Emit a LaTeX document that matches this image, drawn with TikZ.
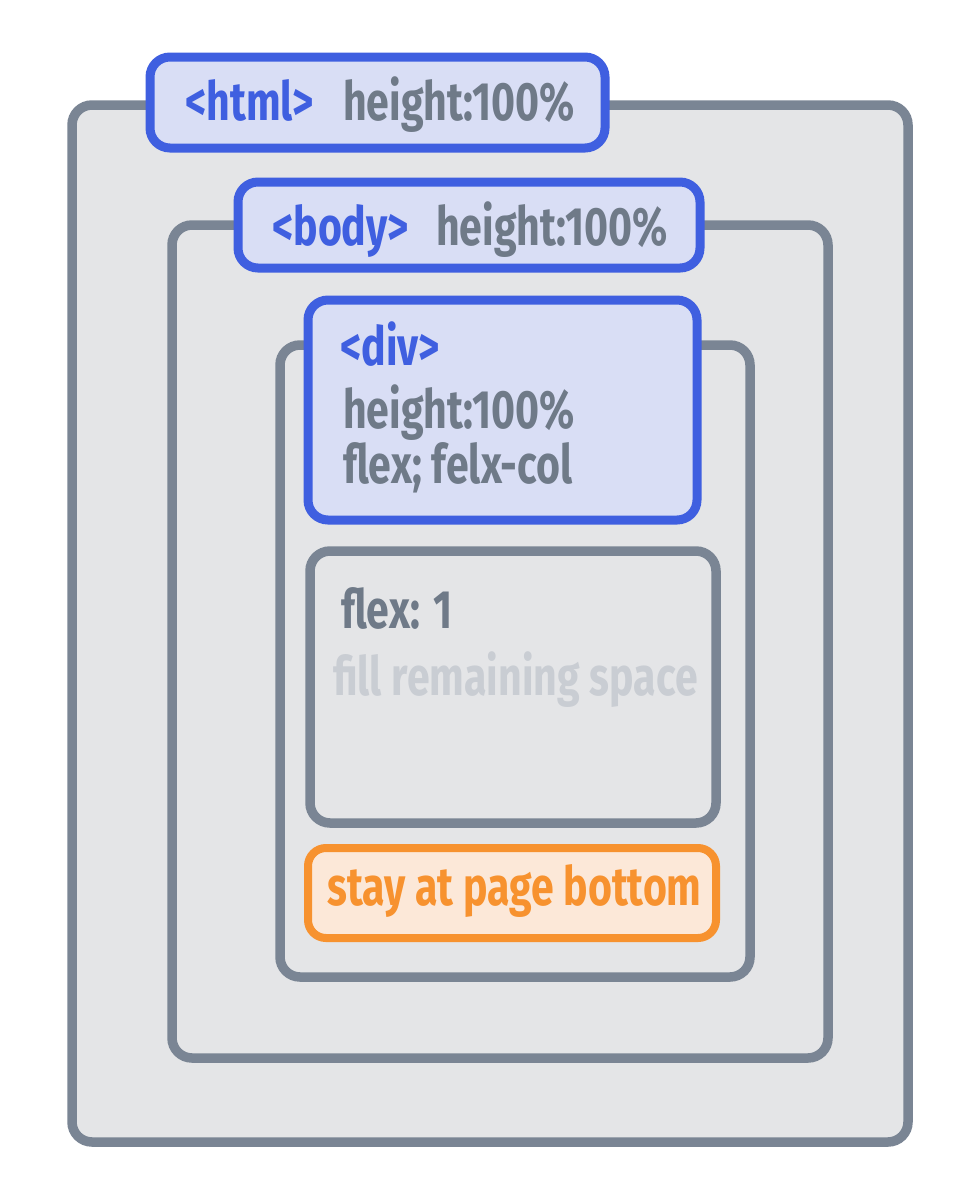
\documentclass[tikz,border=0pt]{standalone}
\usepackage{fontspec}
\newfontfamily\hand[FakeStretch=0.76]{Fira Sans}
\definecolor{boxgray}{HTML}{7A8594}
\definecolor{fillgray}{HTML}{E4E5E7}
\definecolor{bluestroke}{HTML}{3F5FE0}
\definecolor{bluefill}{HTML}{D9DEF5}
\definecolor{txtgray}{HTML}{6F7A88}
\definecolor{txtlight}{HTML}{C9CDD3}
\definecolor{orstroke}{HTML}{F7922F}
\definecolor{orfill}{HTML}{FCE8D8}
\begin{document}
\begin{tikzpicture}[x=1pt,y=1pt,
  graybox/.style={draw=boxgray,fill=fillgray,line width=9.5pt,rounded corners=20pt,inner sep=0pt},
  bluebox/.style={draw=bluestroke,fill=bluefill,line width=9pt,rounded corners=20pt,inner sep=0pt},
  orbox/.style={draw=orstroke,fill=orfill,line width=8pt,rounded corners=18pt,inner sep=0pt},
  lbl/.style={anchor=base west,inner sep=0pt,font=\hand\bfseries\fontsize{54}{60}\selectfont},
  tagtxt/.style={lbl,text=bluestroke},
  graytxt/.style={lbl,text=txtgray},
  lighttxt/.style={lbl,text=txtlight},
  ortxt/.style={lbl,text=orstroke}]
\useasboundingbox (0,0) rectangle (980,-1200);
\fill[white] (0,0) rectangle (980,-1200);
% html
\node[graybox,minimum width=836pt,minimum height=1037pt] (htmlbox) at (490,-623.5) {};
\node[bluebox,minimum width=455pt,minimum height=91pt] (htmllbl) at (377.5,-102.5) {};
\node[tagtxt] (htmltag) at (185,-120) {<html>};
\node[graytxt] (htmlh) at (343,-120) {height:100\%};
% body
\node[graybox,minimum width=656pt,minimum height=833pt] (bodybox) at (500,-641.5) {};
\node[bluebox,minimum width=462pt,minimum height=86pt] (bodylbl) at (469,-225) {};
\node[tagtxt] (bodytag) at (272,-245) {<body>};
\node[graytxt] (bodyh) at (436,-245) {height:100\%};
% div
\node[graybox,minimum width=470pt,minimum height=632pt] (divbox) at (515,-661) {};
\node[bluebox,minimum width=389pt,minimum height=220pt] (divlbl) at (502.5,-410) {};
\node[tagtxt] (divtag) at (340,-365) {<div>};
\node[graytxt] (divh) at (343,-428) {height:100\%};
\node[graytxt] (divf) at (343,-483) {flex; felx-col};
% flex 1
\node[graybox,minimum width=406pt,minimum height=272pt] (flexbox) at (513,-687) {};
\node[graytxt] (flext) at (341,-628) {flex: 1};
\node[lighttxt] (fillt) at (333,-695) {fill remaining space};
% bottom
\node[orbox,minimum width=408pt,minimum height=90pt] (botbox) at (512,-893) {};
\node[ortxt] (bott) at (327,-905) {stay at page bottom};
\end{tikzpicture}
\end{document}
